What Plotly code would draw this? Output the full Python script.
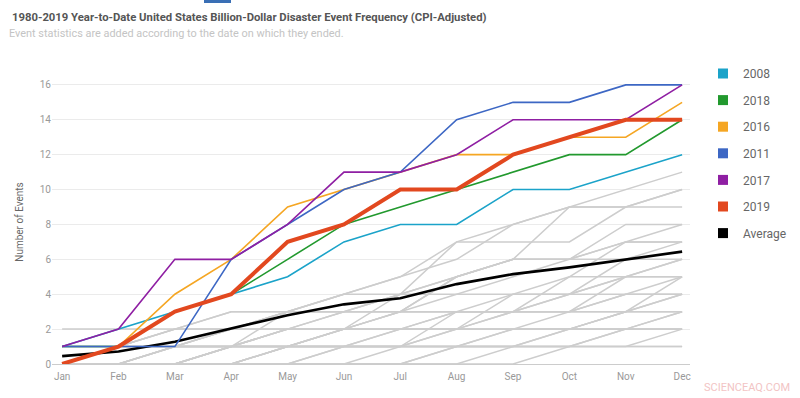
import plotly.graph_objects as go

months = ["Jan", "Feb", "Mar", "Apr", "May", "Jun", "Jul", "Aug", "Sep", "Oct", "Nov", "Dec"]
y_ticks = [0, 2, 4, 6, 8, 10, 12, 14, 16]

# Highlighted years (cumulative event counts)
y2008 = [1, 2, 3, 4, 5, 7, 8, 8, 10, 10, 11, 12]
y2018 = [1, 1, 3, 4, 6, 8, 9, 10, 11, 12, 12, 14]
y2016 = [0, 1, 4, 6, 9, 10, 11, 12, 12, 13, 13, 15]
y2011 = [1, 1, 1, 6, 8, 10, 11, 14, 15, 15, 16, 16]
y2017 = [1, 2, 6, 6, 8, 11, 11, 12, 14, 14, 14, 16]
y2019 = [0, 1, 3, 4, 7, 8, 10, 10, 12, 13, 14, 14]
average = [0.45, 0.72, 1.28, 2.05, 2.8, 3.42, 3.77, 4.58, 5.15, 5.54, 6.0, 6.44]

# Other years (grey background lines, estimated)
grey_years = [
    [0, 1, 2, 2, 3, 4, 5, 6, 8, 9, 10, 11],
    [1, 1, 1, 2, 3, 4, 5, 7, 8, 9, 9, 10],
    [0, 0, 1, 2, 3, 3, 4, 7, 7, 7, 9, 10],
    [0, 1, 2, 3, 3, 3, 4, 5, 6, 9, 9, 9],
    [0, 0, 0, 1, 3, 4, 4, 5, 6, 6, 8, 8],
    [1, 1, 2, 3, 3, 3, 3, 5, 6, 6, 7, 8],
    [0, 0, 1, 1, 2, 3, 3, 3, 3, 5, 7, 7],
    [2, 2, 2, 2, 2, 2, 3, 5, 6, 6, 7, 7],
    [0, 0, 0, 0, 1, 2, 4, 4, 5, 6, 6, 7],
    [0, 1, 1, 2, 2, 3, 3, 4, 4, 4, 6, 6],
    [0, 0, 1, 1, 1, 2, 3, 3, 4, 5, 5, 6],
    [0, 0, 0, 1, 2, 2, 2, 2, 4, 4, 5, 6],
    [1, 1, 1, 1, 2, 2, 3, 3, 3, 3, 5, 5],
    [0, 0, 0, 0, 0, 1, 1, 3, 3, 4, 5, 5],
    [0, 0, 1, 1, 2, 2, 2, 3, 3, 4, 4, 5],
    [0, 0, 0, 1, 1, 2, 2, 2, 3, 3, 3, 5],
    [0, 1, 1, 1, 1, 2, 2, 2, 3, 3, 3, 4],
    [0, 0, 0, 0, 1, 1, 2, 3, 3, 3, 4, 4],
    [0, 0, 0, 1, 1, 1, 2, 2, 2, 2, 3, 4],
    [0, 0, 0, 0, 0, 0, 0, 1, 2, 3, 4, 4],
    [0, 0, 0, 0, 1, 1, 1, 2, 2, 2, 3, 3],
    [0, 0, 0, 0, 0, 1, 1, 1, 2, 2, 2, 3],
    [0, 1, 1, 1, 1, 1, 1, 2, 2, 2, 3, 3],
    [0, 0, 0, 0, 0, 0, 1, 1, 1, 2, 2, 3],
    [0, 0, 0, 0, 0, 0, 0, 0, 1, 1, 2, 2],
    [1, 1, 1, 1, 1, 1, 1, 1, 1, 1, 2, 2],
    [0, 0, 0, 0, 1, 1, 1, 1, 1, 2, 2, 2],
    [0, 0, 0, 0, 0, 0, 0, 1, 1, 1, 1, 2],
    [0, 0, 0, 0, 0, 0, 0, 0, 0, 1, 1, 1],
    [0, 0, 0, 1, 1, 1, 1, 1, 1, 1, 1, 1],
]

named = [
    ("2008", y2008, "#1ba3c9", 1.6),
    ("2018", y2018, "#22992e", 1.6),
    ("2016", y2016, "#f5a623", 1.6),
    ("2011", y2011, "#3d67c4", 1.6),
    ("2017", y2017, "#8f1fa3", 1.6),
    ("2019", y2019, "#e2481f", 4.0),
    ("Average", average, "#000000", 2.6),
]

xi = list(range(len(months)))
fig = go.Figure()

for g in grey_years:
    fig.add_trace(go.Scatter(x=xi, y=g, mode="lines", showlegend=False, hoverinfo="skip",
                             line=dict(color="#cdcdcd", width=1.5)))

draw_order = ["Average", "2008", "2018", "2016", "2011", "2017", "2019"]
lookup = {n[0]: n for n in named}
for name in draw_order:
    nm, vals, col, w = lookup[name]
    fig.add_trace(go.Scatter(x=xi, y=vals, mode="lines", name=nm, showlegend=False,
                             line=dict(color=col, width=w)))

# legend entries with square swatches
for nm, vals, col, w in named:
    fig.add_trace(go.Scatter(x=[None], y=[None], mode="markers", name=nm, legendgroup=nm,
                             marker=dict(symbol="square", size=10, color=col)))

fig.update_layout(
    width=800, height=398,
    margin=dict(l=52, r=110, t=80, b=34, autoexpand=False),
    paper_bgcolor="white", plot_bgcolor="white",
    font=dict(family="Roboto, Arial, sans-serif", color="#777"),
    title=dict(text="<b>1980-2019 Year-to-Date United States Billion-Dollar Disaster Event Frequency (CPI-Adjusted)</b>",
               xref="container", x=12 / 800, xanchor="left", yref="container", y=1 - 17 / 398, yanchor="middle",
               font=dict(size=11.3, color="#555")),
    legend=dict(x=(703 - 52) / 638, xanchor="left", y=(364 - 59) / 284, yanchor="top",
                font=dict(size=12, color="#666"), tracegroupgap=7.6, bgcolor="rgba(0,0,0,0)"),
    showlegend=True,
)
fig.update_xaxes(range=[-0.18, 11.14], tickvals=xi, ticktext=months, showgrid=False, zeroline=False,
                 showline=False, ticks="", tickfont=dict(size=10, color="#999"), ticklabelstandoff=5)
fig.update_yaxes(range=[0, 16.28], tickvals=y_ticks, showgrid=True, gridcolor="#ebebeb", gridwidth=1,
                 zeroline=True, zerolinecolor="#cccccc", zerolinewidth=1, ticks="",
                 tickfont=dict(size=10, color="#999"),
                 title=dict(text="Number of Events", font=dict(size=10, color="#666"), standoff=14))

fig.add_annotation(text="Event statistics are added according to the date on which they ended.",
                   xref="paper", yref="paper", x=(7 - 52) / 638, y=(364 - 33) / 284,
                   xanchor="left", yanchor="middle", showarrow=False, font=dict(size=10.9, color="#c4c4c4"))
fig.add_annotation(text="SCIENCEAQ.COM", xref="paper", yref="paper", x=(792 - 52) / 638, y=(364 - 387) / 284,
                   xanchor="right", yanchor="middle", showarrow=False, font=dict(size=11, color="#f2c4c4"))
fig.add_shape(type="rect", xref="paper", yref="paper", x0=(204 - 52) / 638, x1=(231 - 52) / 638,
              y0=(364 - 3) / 284, y1=364 / 284, line=dict(width=0), fillcolor="#3a6fb5")

fig.write_html("out.html", config={"displayModeBar": False},
               post_script="document.body.style.margin='0';")
